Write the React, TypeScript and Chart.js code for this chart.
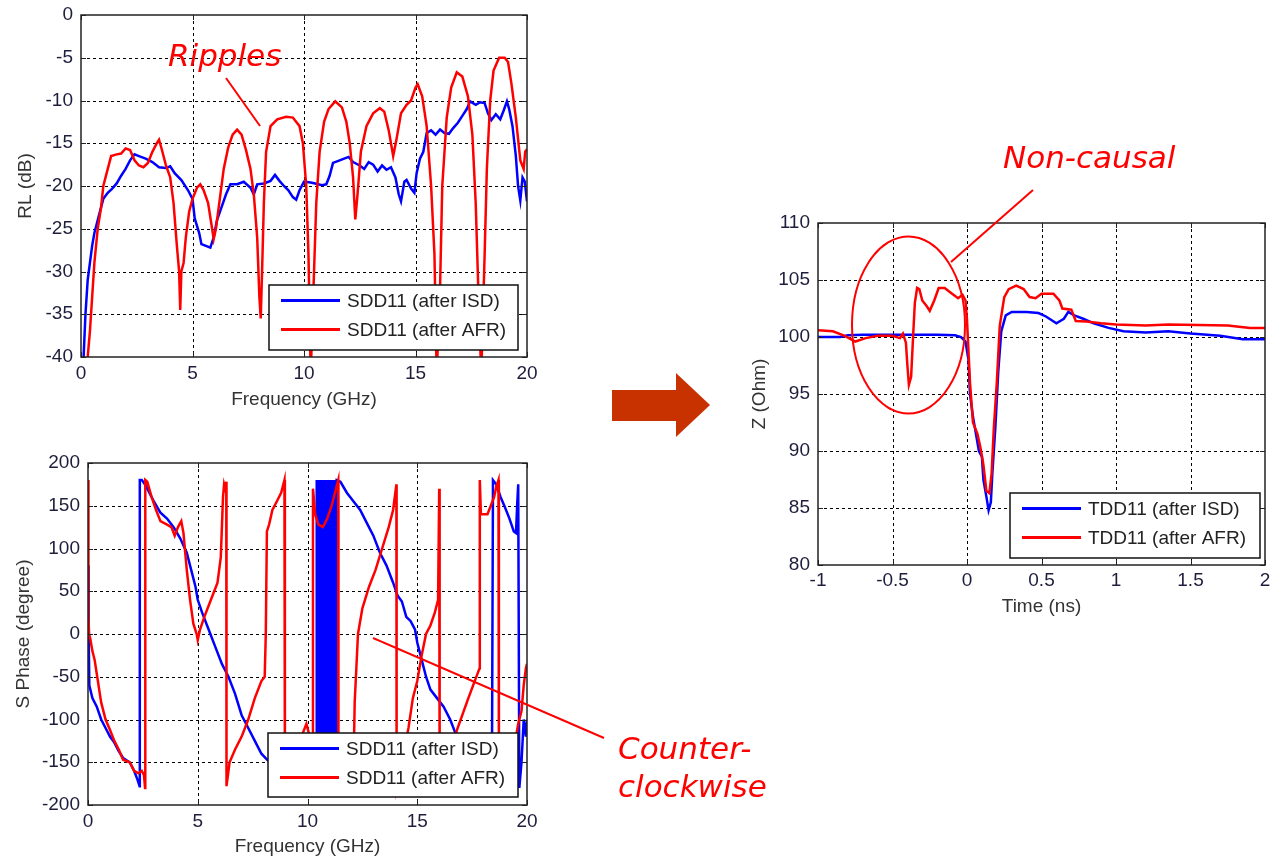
import React, { useEffect, useRef } from "react";
import { Chart, registerables } from "chart.js";

Chart.register(...registerables);

type Pt = [number, number];

// ---------- Return loss SDD11 (dB) vs frequency (GHz)
const RL_ISD: Pt[] = [
  [0.1, -41], [0.15, -38], [0.2, -35], [0.3, -31], [0.4, -29], [0.5, -27], [0.6, -25.5], [0.8, -23.5],
  [1.0, -21.5], [1.2, -20.8], [1.4, -20.3], [1.6, -19.7], [1.8, -18.8], [2.0, -18], [2.2, -17], [2.4, -16.3],
  [2.6, -16.5], [2.9, -16.8], [3.2, -17.2], [3.5, -17.8], [3.8, -17.9], [4.0, -17.7], [4.2, -18.5], [4.5, -19.3],
  [4.8, -20.5], [5.0, -21.5], [5.1, -23.8], [5.3, -25.5], [5.4, -26.8], [5.6, -27], [5.8, -27.2], [5.95, -26],
  [6.1, -24], [6.3, -22.5], [6.5, -21], [6.7, -19.8], [7.0, -19.8], [7.3, -19.5], [7.6, -20.2], [7.75, -21],
  [7.9, -19.8], [8.2, -19.7], [8.5, -19.4], [8.7, -18.7], [8.9, -19.4], [9.1, -20], [9.3, -20.5], [9.5, -21.3],
  [9.65, -21.6], [9.8, -20.5], [10.0, -19.5], [10.3, -19.6], [10.5, -19.7], [10.8, -19.9], [11.0, -19.8],
  [11.15, -18.8], [11.3, -17.3], [11.6, -17], [11.8, -16.8], [12.0, -16.6], [12.2, -17.2], [12.5, -17.6],
  [12.7, -18], [12.9, -17.2], [13.1, -17.5], [13.3, -18.3], [13.5, -17.6], [13.7, -18.1], [13.9, -17.8],
  [14.1, -19], [14.25, -21], [14.35, -21.8], [14.5, -19.5], [14.6, -19.3], [14.8, -20.3], [14.95, -20.8],
  [15.05, -18.5], [15.2, -16.8], [15.35, -16], [15.5, -13.8], [15.7, -13.5], [15.9, -14], [16.1, -13.4],
  [16.3, -13.8], [16.5, -13.9], [16.7, -13.2], [16.9, -12.6], [17.1, -11.8], [17.3, -11], [17.45, -10.1],
  [17.7, -10.5], [17.9, -10.2], [18.1, -10.3], [18.25, -11.5], [18.4, -12.3], [18.6, -11.6], [18.8, -12.2],
  [18.95, -11.2], [19.1, -10.1], [19.2, -11], [19.35, -13], [19.5, -16.5], [19.6, -20], [19.7, -21.7],
  [19.8, -19], [19.9, -19.5], [20.0, -21.8],
];

const RL_AFR: Pt[] = [
  [0.2, -41], [0.3, -40], [0.4, -37], [0.5, -33], [0.6, -29], [0.75, -25], [0.9, -22.5], [1.0, -20],
  [1.2, -18], [1.35, -16.5], [1.6, -16.3], [1.8, -16.2], [2.0, -15.6], [2.2, -15.8], [2.4, -17], [2.6, -17.6],
  [2.8, -17.8], [3.0, -17.3], [3.2, -16], [3.4, -15], [3.5, -14.6], [3.6, -15.5], [3.8, -17.5], [4.0, -19],
  [4.15, -22], [4.3, -27], [4.4, -30], [4.45, -34.5], [4.5, -30], [4.6, -29], [4.7, -26], [4.85, -23],
  [5.0, -21.5], [5.2, -20.2], [5.35, -19.8], [5.5, -20.5], [5.7, -22], [5.85, -24.5], [5.95, -26.2],
  [6.05, -25], [6.2, -22], [6.4, -18], [6.6, -15.5], [6.8, -14], [7.0, -13.4], [7.2, -14], [7.4, -15.8],
  [7.6, -18], [7.75, -21], [7.9, -26], [8.0, -33], [8.06, -35.5], [8.12, -30], [8.2, -22], [8.3, -16],
  [8.5, -13], [8.8, -12.2], [9.2, -11.9], [9.5, -12], [9.8, -13], [9.95, -15], [10.1, -20], [10.2, -28],
  [10.3, -42], [10.45, -30], [10.55, -22], [10.7, -16], [10.9, -12.5], [11.1, -11], [11.4, -10.1],
  [11.7, -10.8], [11.9, -12.5], [12.05, -15], [12.2, -19], [12.3, -23.9], [12.4, -21], [12.55, -16],
  [12.8, -13], [13.1, -11.5], [13.4, -10.9], [13.6, -11.3], [13.8, -13.5], [14.0, -16.5], [14.15, -14.5],
  [14.35, -11.5], [14.6, -10.5], [14.8, -10], [15.0, -8.5], [15.1, -8.1], [15.3, -9.5], [15.5, -13],
  [15.7, -20], [15.85, -28], [15.95, -42], [16.1, -32], [16.2, -20], [16.4, -12], [16.6, -8.5],
  [16.85, -6.7], [17.1, -7.2], [17.35, -9.5], [17.55, -14], [17.7, -22], [17.85, -35], [17.95, -42],
  [18.1, -28], [18.2, -18], [18.35, -10], [18.5, -6.5], [18.75, -5], [19.0, -5], [19.15, -5.5], [19.3, -8],
  [19.5, -12], [19.7, -17], [19.85, -18], [19.92, -16], [20.0, -15.7],
];

// ---------- SDD11 phase (degree) vs frequency (GHz)
const PH_ISD: Pt[] = [
  [0, 80], [0.03, 0], [0.06, -60], [0.2, -75], [0.4, -85], [0.6, -100], [0.8, -110], [1.0, -120],
  [1.2, -127], [1.4, -137], [1.6, -145], [1.9, -150], [2.1, -160], [2.25, -170], [2.35, -178], [2.36, 180],
  [2.45, 180], [2.6, 175], [2.8, 165], [3.0, 155], [3.3, 142], [3.6, 135], [3.9, 125], [4.2, 112],
  [4.5, 95], [4.7, 75], [4.9, 55], [5.0, 40], [5.2, 25], [5.5, 5], [5.8, -15], [6.1, -35], [6.4, -50],
  [6.7, -70], [7.0, -95], [7.3, -110], [7.6, -125], [7.9, -140], [8.2, -148], [8.6, -150], [9.0, -160],
  [9.5, -170], [10.0, -178], [10.4, -180],
  [10.42, 180], [10.44, -180], [10.46, 180], [10.48, -180], [10.5, 180], [10.52, -180], [10.54, 180],
  [10.56, -180], [10.58, 180], [10.6, -180], [10.62, 180], [10.64, -180], [10.66, 180], [10.68, -180],
  [10.7, 180], [10.72, -180], [10.74, 180], [10.76, -180], [10.78, 180], [10.8, -180], [10.82, 180],
  [10.84, -180], [10.86, 180], [10.87, -180], [10.97, -180],
  [10.98, 180], [11.0, -180], [11.02, 180], [11.04, -180], [11.06, 180], [11.08, -180], [11.1, 180],
  [11.12, -180], [11.14, 180], [11.16, -180], [11.18, 180], [11.2, -180], [11.22, 180], [11.24, -180],
  [11.26, 180], [11.28, -180], [11.3, 180], [11.32, -180], [11.34, 180],
  [11.5, 178], [11.8, 165], [12.1, 155], [12.4, 145], [12.7, 130], [13.0, 115], [13.3, 95], [13.6, 80],
  [13.9, 60], [14.1, 45], [14.3, 38], [14.5, 20], [14.7, 15], [14.9, 5], [15.0, -10], [15.2, -30],
  [15.4, -50], [15.6, -65], [15.9, -75], [16.2, -85], [16.5, -100], [16.8, -120], [17.1, -140],
  [17.5, -160], [18.0, -170], [18.4, -178], [18.45, 180], [18.6, 175], [18.8, 160], [19.0, 148],
  [19.2, 135], [19.4, 120], [19.5, 118], [19.55, 150], [19.6, 175], [19.65, -180], [19.75, -150],
  [19.85, -100], [19.95, -120], [20.0, -100],
];

const PH_AFR: Pt[] = [
  [0, 180], [0.02, 20], [0.05, 0], [0.1, -5], [0.2, -20], [0.3, -30], [0.45, -55], [0.6, -80],
  [0.8, -100], [1.0, -112], [1.2, -125], [1.4, -135], [1.6, -147], [1.9, -150], [2.1, -160], [2.3, -163],
  [2.45, -160], [2.55, -165], [2.6, -180], [2.61, 180], [2.7, 178], [2.9, 160], [3.1, 145], [3.3, 132],
  [3.6, 128], [3.8, 125], [3.95, 115], [4.1, 125], [4.25, 132], [4.35, 118], [4.5, 75], [4.65, 40],
  [4.8, 12], [4.95, 0], [5.0, -7], [5.1, 5], [5.3, 20], [5.6, 40], [5.9, 60], [6.05, 90], [6.15, 160],
  [6.2, 175], [6.25, 170], [6.3, 178], [6.31, -178], [6.45, -150], [6.7, -135], [7.0, -120], [7.3, -100],
  [7.6, -75], [7.9, -55], [8.05, -50], [8.1, 0], [8.15, 120], [8.25, 128], [8.4, 145], [8.6, 155],
  [8.8, 165], [8.95, 180], [8.97, -180], [9.5, -140], [9.8, -115], [9.95, -105], [10.05, -115],
  [10.15, -130], [10.22, -180], [10.25, 170], [10.35, 140], [10.5, 128], [10.7, 125], [10.9, 135],
  [11.1, 150], [11.3, 170], [11.4, 180], [11.41, -180], [11.8, -170], [12.1, -150], [12.15, -80],
  [12.3, 0], [12.5, 30], [12.8, 55], [13.1, 75], [13.4, 100], [13.7, 125], [13.9, 145], [14.05, 175],
  [14.06, -180], [14.3, -150], [14.6, -110], [14.8, -75], [15.0, -55], [15.2, -25], [15.4, 0], [15.6, 10],
  [15.8, 25], [15.95, 40], [16.0, 170], [16.02, -180], [16.5, -150], [16.8, -113], [17.3, -77],
  [17.75, -46], [17.84, -40], [17.85, 180], [17.9, 140], [18.0, 140], [18.2, 140], [18.35, 150],
  [18.5, 160], [18.6, 172], [18.7, 180], [18.72, -180], [19.3, -150], [19.5, -120], [19.6, -105],
  [19.75, -90], [19.85, -60], [19.95, -40], [20.0, -35],
];

// ---------- TDD11 impedance (Ohm) vs time (ns)
const TDR_ISD: Pt[] = [
  [-1, 100.0], [-0.85, 100.0], [-0.8, 100.15], [-0.7, 100.2], [-0.5, 100.2], [-0.2, 100.2], [-0.08, 100.15],
  [-0.04, 100.0], [-0.01, 99.6], [0.01, 98], [0.02, 95], [0.04, 93], [0.06, 91.5], [0.08, 90], [0.1, 89.5],
  [0.11, 87.5], [0.13, 86], [0.145, 84.8], [0.16, 85.5], [0.17, 88], [0.19, 92], [0.21, 97], [0.23, 100.5],
  [0.26, 101.9], [0.3, 102.2], [0.4, 102.2], [0.48, 102.1], [0.53, 101.8], [0.6, 101.2], [0.65, 101.6],
  [0.68, 102.2], [0.72, 101.9], [0.78, 101.6], [0.85, 101.2], [0.95, 100.8], [1.05, 100.5], [1.2, 100.4],
  [1.35, 100.5], [1.5, 100.3], [1.7, 100.1], [1.85, 99.8], [2.0, 99.8],
];

const TDR_AFR: Pt[] = [
  [-1, 100.6], [-0.9, 100.5], [-0.82, 100.1], [-0.75, 99.6], [-0.68, 99.9], [-0.6, 100.1], [-0.5, 100.1],
  [-0.45, 99.9], [-0.43, 100.3], [-0.41, 99.5], [-0.4, 97.5], [-0.39, 95.8], [-0.375, 96.5], [-0.36, 100.5],
  [-0.35, 103], [-0.335, 104.3], [-0.32, 104.2], [-0.3, 103.2], [-0.27, 102.7], [-0.25, 102.3],
  [-0.22, 103.2], [-0.19, 104.3], [-0.15, 104.3], [-0.1, 103.8], [-0.06, 103.4], [-0.03, 103.7],
  [-0.01, 103.2], [0.0, 101.5], [0.02, 96], [0.04, 92.5], [0.07, 91.5], [0.09, 90.3], [0.11, 88.8],
  [0.13, 86.5], [0.15, 86.3], [0.165, 88], [0.18, 92], [0.2, 96], [0.22, 101], [0.25, 103.5], [0.28, 104.2],
  [0.33, 104.5], [0.38, 104.2], [0.42, 103.5], [0.46, 103.4], [0.5, 103.8], [0.58, 103.8], [0.62, 103.2],
  [0.64, 102.5], [0.7, 102.4], [0.73, 101.4], [0.8, 101.35], [0.9, 101.2], [1.0, 101.1], [1.2, 101],
  [1.35, 101.1], [1.55, 101.05], [1.75, 101], [1.9, 100.8], [2.0, 100.8],
];

// ---------- axis ticks
const FREQ_TICKS = [0, 5, 10, 15, 20];
const RL_TICKS = [-40, -35, -30, -25, -20, -15, -10, -5, 0];
const PHASE_TICKS = [-200, -150, -100, -50, 0, 50, 100, 150, 200];
const TIME_TICKS = [-1, -0.5, 0, 0.5, 1, 1.5, 2];
const Z_TICKS = [80, 85, 90, 95, 100, 105, 110];

const BLUE = "#0000ff";
const RED = "#ff0000";
const SANS = "'Liberation Sans', Arial, sans-serif";
const TICK_COLOR = "#1e1e3c";
const TITLE_COLOR = "#333333";

type Series = { label: string; pts: Pt[]; color: string };

type PlotSpec = {
  series: Series[];
  xTicks: number[];
  yTicks: number[];
  xTitle: string;
  yTitle: string;
  canvas: { left: number; top: number; width: number; height: number };
  area: { padTop: number; padRight: number; yAxisWidth: number; xAxisHeight: number };
  titlePad: { x: number; y: number };
  xTickPad: number;
  legendBox: { right: number; bottom: number; width: number; height: number };
};

// MATLAB-style axes: dashed grid, inward ticks, boxed frame and boxed legend
const matlabAxes = {
  id: "matlabAxes",
  beforeDatasetsDraw(chart: any) {
    const { ctx, chartArea: a, scales } = chart;
    ctx.save();
    ctx.strokeStyle = "#000";
    ctx.lineWidth = 1;
    ctx.setLineDash([3, 3]);
    ctx.beginPath();
    for (const t of scales.x.ticks) {
      const px = Math.round(scales.x.getPixelForValue(t.value)) + 0.5;
      if (px <= a.left + 2 || px >= a.right - 2) continue;
      ctx.moveTo(px, a.top);
      ctx.lineTo(px, a.bottom);
    }
    for (const t of scales.y.ticks) {
      const py = Math.round(scales.y.getPixelForValue(t.value)) + 0.5;
      if (py <= a.top + 2 || py >= a.bottom - 2) continue;
      ctx.moveTo(a.left, py);
      ctx.lineTo(a.right, py);
    }
    ctx.stroke();
    ctx.restore();
  },
  afterDraw(chart: any, _args: any, opts: any) {
    const { ctx, chartArea: a, scales } = chart;
    ctx.save();
    ctx.setLineDash([]);
    ctx.strokeStyle = "#222";
    ctx.lineWidth = 1;
    const tl = 5;
    ctx.beginPath();
    for (const t of scales.x.ticks) {
      const px = Math.round(scales.x.getPixelForValue(t.value)) + 0.5;
      ctx.moveTo(px, a.bottom);
      ctx.lineTo(px, a.bottom - tl);
      ctx.moveTo(px, a.top);
      ctx.lineTo(px, a.top + tl);
    }
    for (const t of scales.y.ticks) {
      const py = Math.round(scales.y.getPixelForValue(t.value)) + 0.5;
      ctx.moveTo(a.left, py);
      ctx.lineTo(a.left + tl, py);
      ctx.moveTo(a.right, py);
      ctx.lineTo(a.right - tl, py);
    }
    ctx.stroke();

    ctx.lineWidth = 1.5;
    ctx.strokeStyle = "#222";
    ctx.strokeRect(a.left, a.top, a.right - a.left, a.bottom - a.top);

    const box = opts.legendBox;
    if (box) {
      const x0 = a.right - box.right - box.width;
      const y0 = a.bottom - box.bottom - box.height;
      ctx.fillStyle = "#fff";
      ctx.fillRect(x0, y0, box.width, box.height);
      ctx.strokeStyle = "#111";
      ctx.lineWidth = 1.5;
      ctx.strokeRect(x0, y0, box.width, box.height);
      chart.data.datasets.forEach((ds: any, i: number) => {
        const cy = y0 + 15.5 + i * 29;
        ctx.strokeStyle = ds.borderColor;
        ctx.lineWidth = 3;
        ctx.beginPath();
        ctx.moveTo(x0 + 12, cy);
        ctx.lineTo(x0 + 71, cy);
        ctx.stroke();
        ctx.fillStyle = "#222";
        ctx.font = `19px ${SANS}`;
        ctx.textAlign = "left";
        ctx.textBaseline = "middle";
        ctx.fillText(ds.label, x0 + 78, cy + 1);
      });
    }
    ctx.restore();
  },
};

// the plot box is placed by the layout padding and fixed axis sizes only
const noScalePadding = (s: any) => {
  s.paddingTop = 0;
  s.paddingBottom = 0;
  s.paddingLeft = 0;
  s.paddingRight = 0;
};

function buildConfig(spec: PlotSpec): any {
  const { series, xTicks, yTicks, area, titlePad } = spec;
  const tickFont = { family: SANS, size: 19 };
  const titleFont = { family: SANS, size: 19 };
  return {
    type: "line",
    data: {
      datasets: series.map((s, i) => ({
        label: s.label,
        data: s.pts.map(([x, y]) => ({ x, y })),
        borderColor: s.color,
        backgroundColor: s.color,
        borderWidth: 2.5,
        pointRadius: 0,
        tension: 0,
        fill: false,
        order: series.length - 1 - i,
      })),
    },
    options: {
      responsive: false,
      maintainAspectRatio: false,
      animation: false,
      devicePixelRatio: 1,
      events: [],
      layout: { padding: { top: area.padTop, right: area.padRight, left: 0, bottom: 0 } },
      plugins: {
        legend: { display: false },
        tooltip: { enabled: false },
        matlabAxes: { legendBox: spec.legendBox },
      },
      scales: {
        x: {
          type: "linear",
          position: "bottom",
          min: xTicks[0],
          max: xTicks[xTicks.length - 1],
          afterBuildTicks: (s: any) => {
            s.ticks = xTicks.map((v) => ({ value: v }));
          },
          afterFit: (s: any) => {
            s.height = area.xAxisHeight;
            noScalePadding(s);
          },
          grid: { display: false, drawTicks: false },
          border: { display: false },
          ticks: {
            color: TICK_COLOR,
            font: tickFont,
            padding: spec.xTickPad,
            autoSkip: false,
            maxRotation: 0,
            callback: (v: number) => String(v),
          },
          title: {
            display: true,
            text: spec.xTitle,
            color: TITLE_COLOR,
            font: titleFont,
            padding: { top: 0, bottom: titlePad.x },
          },
        },
        y: {
          type: "linear",
          position: "left",
          min: yTicks[0],
          max: yTicks[yTicks.length - 1],
          afterBuildTicks: (s: any) => {
            s.ticks = yTicks.map((v) => ({ value: v }));
          },
          afterFit: (s: any) => {
            s.width = area.yAxisWidth;
            noScalePadding(s);
          },
          grid: { display: false, drawTicks: false },
          border: { display: false },
          ticks: {
            color: TICK_COLOR,
            font: tickFont,
            padding: 8,
            autoSkip: false,
            callback: (v: number) => String(v),
          },
          title: {
            display: true,
            text: spec.yTitle,
            color: TITLE_COLOR,
            font: titleFont,
            padding: { top: titlePad.y, bottom: 0 },
          },
        },
      },
    },
    plugins: [matlabAxes],
  };
}

const PLOTS: PlotSpec[] = [
  {
    series: [
      { label: "SDD11 (after ISD)", pts: RL_ISD, color: BLUE },
      { label: "SDD11 (after AFR)", pts: RL_AFR, color: RED },
    ],
    xTicks: FREQ_TICKS,
    yTicks: RL_TICKS,
    xTitle: "Frequency (GHz)",
    yTitle: "RL (dB)",
    canvas: { left: 0, top: 0, width: 540, height: 420 },
    area: { padTop: 15, padRight: 13, yAxisWidth: 81, xAxisHeight: 63 },
    titlePad: { x: 9.1, y: 14 },
    xTickPad: 5,
    legendBox: { right: 9, bottom: 7, width: 249, height: 65 },
  },
  {
    series: [
      { label: "SDD11 (after ISD)", pts: PH_ISD, color: BLUE },
      { label: "SDD11 (after AFR)", pts: PH_AFR, color: RED },
    ],
    xTicks: FREQ_TICKS,
    yTicks: PHASE_TICKS,
    xTitle: "Frequency (GHz)",
    yTitle: "S Phase (degree)",
    canvas: { left: 0, top: 440, width: 540, height: 419 },
    area: { padTop: 23, padRight: 13, yAxisWidth: 88, xAxisHeight: 54 },
    titlePad: { x: 0.6, y: 12 },
    xTickPad: 5.5,
    legendBox: { right: 9, bottom: 8, width: 250, height: 64 },
  },
  {
    series: [
      { label: "TDD11 (after ISD)", pts: TDR_ISD, color: BLUE },
      { label: "TDD11 (after AFR)", pts: TDR_AFR, color: RED },
    ],
    xTicks: TIME_TICKS,
    yTicks: Z_TICKS,
    xTitle: "Time (ns)",
    yTitle: "Z (Ohm)",
    canvas: { left: 740, top: 200, width: 530, height: 420 },
    area: { padTop: 23, padRight: 5, yAxisWidth: 78, xAxisHeight: 55 },
    titlePad: { x: 1.9, y: 8.6 },
    xTickPad: 4,
    legendBox: { right: 5, bottom: 7, width: 250, height: 65 },
  },
];

function Plot({ spec }: { spec: PlotSpec }) {
  const ref = useRef<HTMLCanvasElement | null>(null);
  useEffect(() => {
    if (!ref.current) return;
    const chart = new Chart(ref.current, buildConfig(spec));
    return () => chart.destroy();
  }, [spec]);
  const c = spec.canvas;
  return (
    <canvas
      ref={ref}
      width={c.width}
      height={c.height}
      style={{ position: "absolute", left: c.left, top: c.top, width: c.width, height: c.height }}
    />
  );
}

const NOTE_FONT = "'DejaVu Sans', Verdana, sans-serif";

function Notes() {
  const textStyle = {
    fontFamily: NOTE_FONT,
    fontStyle: "italic" as const,
    fontSize: 31,
    fill: RED,
  };
  return (
    <svg
      width={1270}
      height={859}
      style={{ position: "absolute", left: 0, top: 0, pointerEvents: "none" }}
    >
      <text x={168} y={66} style={textStyle}>Ripples</text>
      <line x1={226} y1={78} x2={260} y2={126} stroke={RED} strokeWidth={2} />

      <polygon
        points="612,390 676,390 676,373 710,405 676,437 676,421 612,421"
        fill="#c83200"
      />

      <text x={1003} y={168} style={textStyle}>Non-causal</text>
      <line x1={1033} y1={190} x2={951} y2={262} stroke={RED} strokeWidth={2} />
      <ellipse cx={908.5} cy={325} rx={56.5} ry={88.5} fill="none" stroke={RED} strokeWidth={2} />

      <line x1={373} y1={638} x2={604} y2={738} stroke={RED} strokeWidth={2} />
      <text x={618} y={759} style={textStyle}>Counter-</text>
      <text x={618} y={797} style={textStyle}>clockwise</text>
    </svg>
  );
}

export default function App() {
  return (
    <div
      style={{
        position: "fixed",
        left: 0,
        top: 0,
        width: 1270,
        height: 859,
        background: "#ffffff",
        overflow: "hidden",
      }}
    >
      {PLOTS.map((p, i) => (
        <Plot key={i} spec={p} />
      ))}
      <Notes />
    </div>
  );
}
